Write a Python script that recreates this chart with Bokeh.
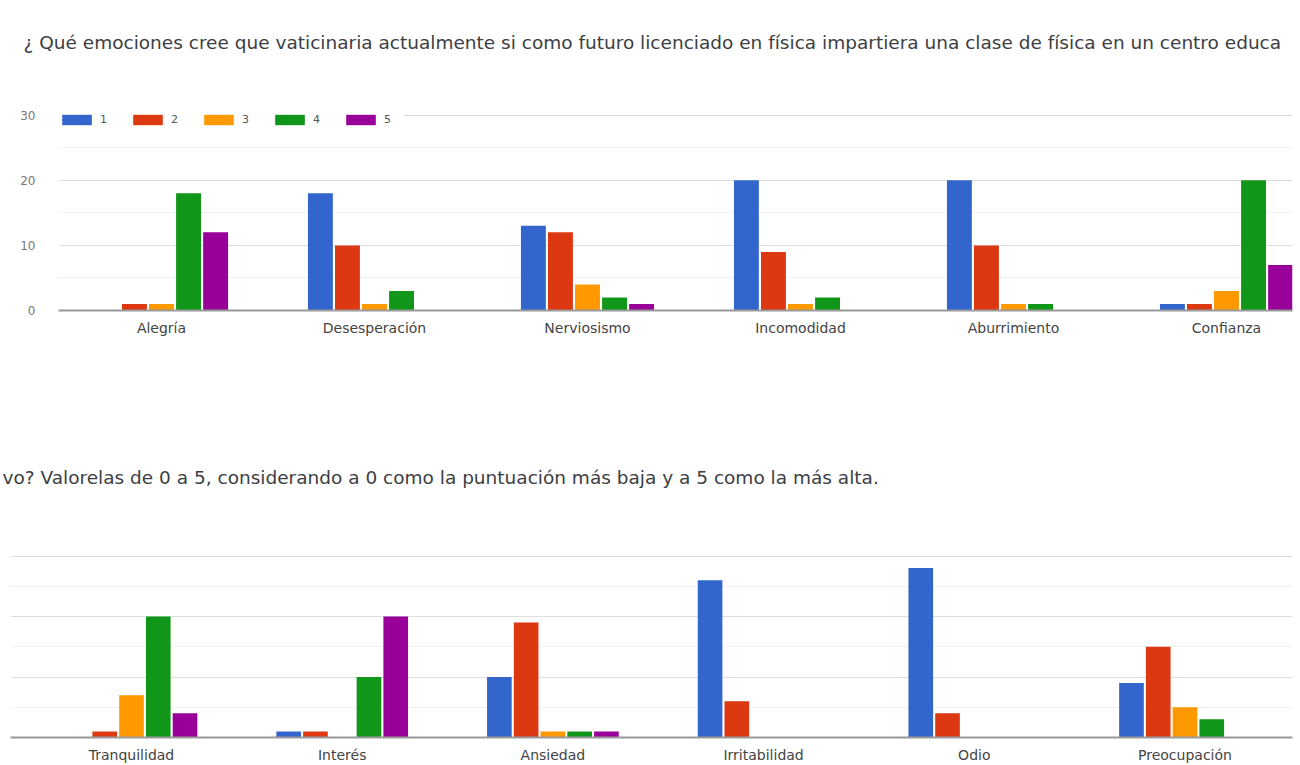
from bokeh.plotting import figure
from bokeh.models import (ColumnDataSource, Range1d, FixedTicker, Legend, LegendItem, Column)
from bokeh.core.properties import value
from bokeh.embed import file_html
from bokeh.resources import INLINE

# ---------------- data ----------------
title_top = ("¿ Qué emociones cree que vaticinaria actualmente si como futuro licenciado "
             "en física impartiera una clase de física en un centro educa")
title_bottom = ("vo? Valorelas de 0 a 5, considerando a 0 como la puntuación más baja "
                "y a 5 como la más alta.")

series_names = ["1", "2", "3", "4", "5"]
series_colors = ["#3366cc", "#dc3912", "#ff9900", "#109618", "#990099"]

top_categories = ["Alegría", "Desesperación", "Nerviosismo", "Incomodidad", "Aburrimiento", "Confianza"]
top_s1 = [0, 18, 13, 20, 20, 1]
top_s2 = [1, 10, 12, 9, 10, 1]
top_s3 = [1, 1, 4, 1, 1, 3]
top_s4 = [18, 3, 2, 2, 1, 20]
top_s5 = [12, 0, 1, 0, 0, 7]

bottom_categories = ["Tranquilidad", "Interés", "Ansiedad", "Irritabilidad", "Odio", "Preocupación"]
bot_s1 = [0, 1, 10, 26, 28, 9]
bot_s2 = [1, 1, 19, 6, 4, 15]
bot_s3 = [7, 0, 1, 0, 0, 5]
bot_s4 = [20, 10, 1, 0, 0, 3]
bot_s5 = [4, 20, 1, 0, 0, 0]

y_ticks = [0, 10, 20, 30]
y_minor = [5, 15, 25]

TEXT_FONT = "DejaVu Sans"
AXIS_FONT = "DejaVu Sans"


def text_fig(txt, height, tx, ty, size):
    f = figure(width=1300, height=height, x_range=Range1d(0, 1300), y_range=Range1d(height, 0),
               output_backend="svg", toolbar_location=None,
               min_border_left=0, min_border_right=0, min_border_top=0, min_border_bottom=0,
               x_axis_location=None, y_axis_location=None)
    f.outline_line_color = None
    f.xgrid.visible = False
    f.ygrid.visible = False
    f.text(x=[tx], y=[ty], text=[txt], text_font=value(TEXT_FONT), text_font_size=size,
           text_color="#3c4043", text_baseline="middle", text_align="left")
    return f


def make_chart(cats, series, height, x_range, mb_left, mb_right, mb_top, mb_bottom,
               show_y, with_legend):
    p = figure(width=1300, height=height, x_range=x_range, y_range=Range1d(0, 30.25),
               output_backend="svg", toolbar_location=None,
               y_axis_location="left" if show_y else None,
               min_border_left=mb_left, min_border_right=mb_right,
               min_border_top=mb_top, min_border_bottom=mb_bottom)
    p.outline_line_color = None

    pitch = 0.127
    bw = 0.117
    renderers = []
    for k, vals in enumerate(series):
        xs = [i + (k - 2) * pitch for i in range(len(cats))]
        src = ColumnDataSource(dict(x=xs, top=vals))
        r = p.vbar(x="x", top="top", width=bw, bottom=0, source=src,
                   fill_color=series_colors[k], line_color=None)
        renderers.append(r)

    p.xgrid.visible = False
    p.ygrid.ticker = FixedTicker(ticks=y_ticks, minor_ticks=y_minor)
    p.ygrid.grid_line_color = "#dddddd"
    p.ygrid.minor_grid_line_color = "#f0f0f0"

    xa = p.xaxis[0]
    xa.ticker = FixedTicker(ticks=list(range(len(cats))))
    xa.major_label_overrides = {i: c for i, c in enumerate(cats)}
    xa.axis_line_color = "#9a9a9a"
    xa.axis_line_width = 2
    xa.major_tick_line_color = None
    xa.minor_tick_line_color = None
    xa.major_label_text_font = AXIS_FONT
    xa.major_label_text_font_size = "14px"
    xa.major_label_text_color = "#444444"
    xa.major_label_standoff = 3

    if show_y:
        ya = p.yaxis[0]
        ya.ticker = FixedTicker(ticks=y_ticks)
        ya.axis_line_color = None
        ya.major_tick_line_color = None
        ya.minor_tick_line_color = None
        ya.major_label_text_font = AXIS_FONT
        ya.major_label_text_font_size = "12px"
        ya.major_label_text_color = "#777777"
        ya.major_label_standoff = 17

    if with_legend:
        items = [LegendItem(label=series_names[k], renderers=[renderers[k]]) for k in range(5)]
        leg = Legend(items=items, location="top_left", orientation="horizontal",
                     glyph_width=37, glyph_height=13, label_height=13, label_width=20,
                     label_text_font=AXIS_FONT, label_text_font_size="11px",
                     label_text_color="#555555", label_standoff=5, spacing=9,
                     padding=0, margin=0, border_line_color=None,
                     background_fill_color="white", background_fill_alpha=1.0)
        p.add_layout(leg)
    return p


# top text: 0..100
t1 = text_fig(title_top, 100, 23, 42, "18.5px")

# top chart: page y 100..340, frame x 58..1292, y(30) at 115, y(0) at 310
top_unit = 213.0
top_start = -(161 - 58) / top_unit
top_end = top_start + (1292 - 58) / top_unit
p1 = make_chart(top_categories, [top_s1, top_s2, top_s3, top_s4, top_s5],
                240, Range1d(top_start, top_end), 58, 8, 13, 30, True, True)

# bottom text: page y 340..500
t2 = text_fig(title_bottom, 160, 2, 477 - 340, "18.5px")

# bottom chart: page y 500..765, frame x 10..1292, y(30) at 556, y(0) at 744
bot_unit = 210.7
bot_start = -(131 - 10) / bot_unit
bot_end = bot_start + (1292 - 10) / bot_unit
p2 = make_chart(bottom_categories, [bot_s1, bot_s2, bot_s3, bot_s4, bot_s5],
                265, Range1d(bot_start, bot_end), 10, 8, 54, 21, False, False)

layout = Column(children=[Column(children=[t1]), Column(children=[p1]),
                          Column(children=[t2]), Column(children=[p2])], spacing=0)
open("out.html", "w").write(file_html(layout, INLINE))
